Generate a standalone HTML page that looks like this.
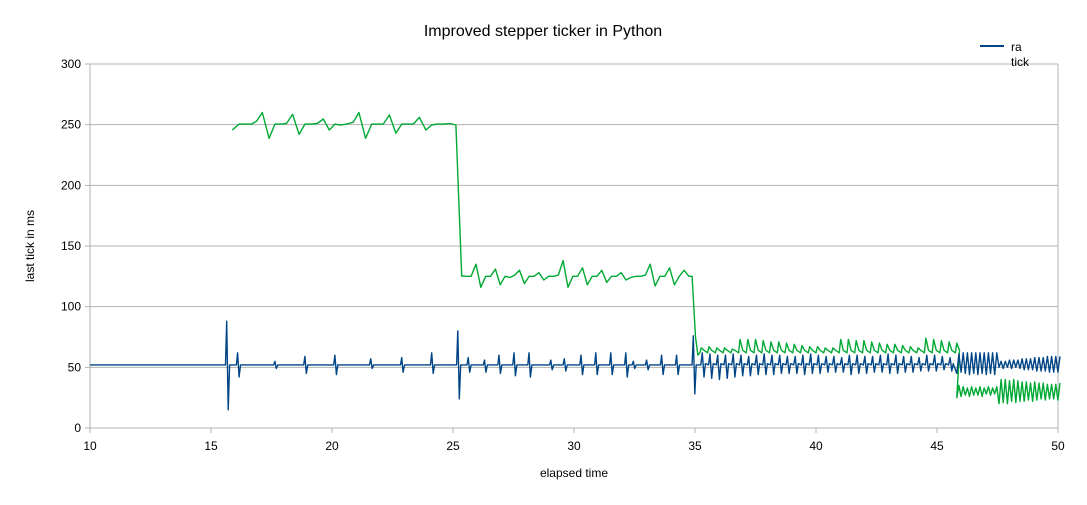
<!DOCTYPE html>
<html><head><meta charset="utf-8"><style>
body{margin:0;background:#fff;}
svg text{font-family:"Liberation Sans",sans-serif;fill:#000;}
</style></head><body>
<svg id="chart" width="1087" height="500" xmlns="http://www.w3.org/2000/svg">
<rect x="0" y="0" width="1087" height="500" fill="#fff"/>
<text x="543" y="36" font-size="16" text-anchor="middle">Improved stepper ticker in Python</text>
<text x="0" y="0" font-size="12" text-anchor="middle" transform="translate(34,246) rotate(-90)">last tick in ms</text>
<text x="574" y="477" font-size="12" text-anchor="middle">elapsed time</text>
<g id="grid"></g>
<g id="axes"></g>
<g id="series"></g>
<g>
<line x1="980" y1="46" x2="1004" y2="46" stroke="#004586" stroke-width="2"/>
<text x="1011" y="51" font-size="12">ra</text>
<text x="1011" y="66" font-size="12">tick</text>
</g>
</svg>
<script>
// ---- data ----
const xTicks = [10,15,20,25,30,35,40,45,50];
const yTicks = [0,50,100,150,200,250,300];
// green: first plateau (explicit samples)
const green1T = [15.88,16.16,16.68,16.89,17.12,17.40,17.64,17.92,18.12,18.37,18.64,18.88,19.16,19.39,19.64,19.89,20.12,20.33,20.61,20.88,21.11,21.39,21.64,21.87,22.12,22.37,22.64,22.88,23.15,23.36,23.61,23.88,24.12,24.33,24.60,24.88,25.12,25.36];
const green1V = [245.6,250.5,250.5,253,260,238.8,250.5,250.5,251,258.5,242,250.5,250.5,251,254.7,245.6,250.5,249.7,250.5,252,260,238.8,250.5,250.5,250.5,258,243,250.5,250.5,250.5,256,245.6,249.7,250.5,250.5,251,249.7,125.3];
// green: second plateau, sampled every 0.2 from 25.55
const green2T0 = 25.55, green2Dt = 0.2;
const green2V = [125,125,135,116,125,125,131,118,125,124,126,130,119,125,125,128,122,125,125,126,138,116,125,125,132,118,125,125,130,120,125,125,128,122,124,125,125,126,135,117,125,125,132,118,125,130,125];
// drop into third region
const green3T = [34.88,35.02,35.12];
const green3V = [125,75,60];
// green sawtooth peaks 35.2..45.8
const gSawT0 = 35.2, gSawDt = 0.32, gSawBase = 62;
const gSawPeak = [66,67,66,66,65,73,73,73,72,71,71,70,69,68,67,67,66,66,73,73,72,72,71,70,69,69,68,67,66,74,73,72,71,70];
// green dense tail
const g4T0 = 45.82, g4Dt = 0.087;
const g4V = [25,35,26,34,27,33,26,34,27,33,27,34,26,33,28,34,27,33,28,34,20,40,21,40,20,39,22,40,21,39,22,38,22,38,23,37,22,38,23,37,24,37,23,36,24,36,24,36,23,37];
// blue baseline and spikes
const blueBase = 52;
const spikeT  = [15.65,16.1,17.64,18.88,20.12,21.6,22.88,24.12,25.2,25.63,26.3,26.9,27.52,28.14,29.04,29.6,30.29,30.9,31.52,32.14,32.45,33.0,33.62,34.24,34.93];
const spikeHi = [88,62,55,59,60,57,58,62,80,58,56,60,62,62,56,57,60,62,62,62,55,56,60,60,76];
const spikeLo = [15,42,49,45,44,49,46,45,24,46,46,45,43,42,48,47,44,44,44,42,49,48,44,44,28];
const bSawT0 = 35.3, bSawDt = 0.32;
const bSawHi = [62,61,60,60,61,60,59,60,61,60,60,59,59,60,61,60,59,59,58,60,60,59,59,60,61,60,59,59,58,60,60,59,58];
const bSawLo = [42,41,40,41,42,43,43,44,44,44,45,45,45,44,45,45,46,46,46,44,45,45,46,46,45,45,46,46,47,47,47,48,47];
const b4T0 = 45.82, b4Dt = 0.087;
const b4V = [45,61,46,62,45,62,44,62,45,62,44,62,45,62,44,62,45,62,44,62,50,55,49,55,50,56,49,56,50,56,49,57,48,57,48,57,48,58,47,58,47,58,47,59,46,59,46,59,46,59];

// ---- scales ----
const X0=90, X1=1058, Y0=428, Y1=64;
const xs = t => X0 + (t-10)/(50-10)*(X1-X0);
const ys = v => Y0 - v/300*(Y0-Y1);
const NS='http://www.w3.org/2000/svg';
const grid=document.getElementById('grid'), axes=document.getElementById('axes'), series=document.getElementById('series');
function mk(tag, attrs, parent){const e=document.createElementNS(NS,tag);for(const k in attrs)e.setAttribute(k,attrs[k]);parent.appendChild(e);return e;}

yTicks.forEach(v=>{
  const l=mk('line',{x1:X0-5,x2:X1,y1:ys(v),y2:ys(v),stroke:'#b3b3b3','stroke-width':1},grid);
  
  
  const t=mk('text',{x:X0-9,y:ys(v)+4,'font-size':12,'text-anchor':'end'},axes);
  t.textContent=v;
  
  
});
const la=mk('line',{x1:X0,x2:X0,y1:Y1,y2:Y0+5,stroke:'#b3b3b3'},axes);


const ra=mk('line',{x1:X1,x2:X1,y1:Y1,y2:Y0,stroke:'#b3b3b3'},axes);


xTicks.forEach(v=>{
  const tk=mk('line',{x1:xs(v),x2:xs(v),y1:Y0,y2:Y0+5,stroke:'#b3b3b3'},axes);
  
  
  const t=mk('text',{x:xs(v),y:Y0+22,'font-size':12,'text-anchor':'middle'},axes);
  t.textContent=v;
  
  
});

// ---- build green ----
const gPts=[];
green1T.forEach((t,i)=>gPts.push([t,green1V[i]]));
green2V.forEach((v,i)=>gPts.push([green2T0+i*green2Dt,v]));
green3T.forEach((t,i)=>gPts.push([t,green3V[i]]));
gSawPeak.forEach((p,i)=>{const t=gSawT0+i*gSawDt;gPts.push([t,gSawBase]);gPts.push([t+0.06,p]);gPts.push([t+0.17,gSawBase+2]);});
g4V.forEach((v,i)=>gPts.push([g4T0+i*g4Dt,v]));
// ---- build blue ----
const bPts=[[10,blueBase]];
spikeT.forEach((t,i)=>{bPts.push([t-0.05,blueBase]);bPts.push([t,spikeHi[i]]);bPts.push([t+0.06,spikeLo[i]]);bPts.push([t+0.12,blueBase]);});
bSawHi.forEach((h,i)=>{const t=bSawT0+i*bSawDt;bPts.push([t-0.06,blueBase]);bPts.push([t,h]);bPts.push([t+0.07,bSawLo[i]]);bPts.push([t+0.13,blueBase+1]);});
b4V.forEach((v,i)=>bPts.push([b4T0+i*b4Dt,v]));

function pathOf(pts){return pts.map((p,i)=>(i?'L':'M')+xs(p[0]).toFixed(1)+' '+ys(p[1]).toFixed(1)).join(' ');}
const gp=mk('path',{d:pathOf(gPts),fill:'none',stroke:'#00a933','stroke-width':1.4,'stroke-linejoin':'round'},series);


const bp=mk('path',{d:pathOf(bPts),fill:'none',stroke:'#004586','stroke-width':1.4,'stroke-linejoin':'round'},series);


</script>
</body></html>
